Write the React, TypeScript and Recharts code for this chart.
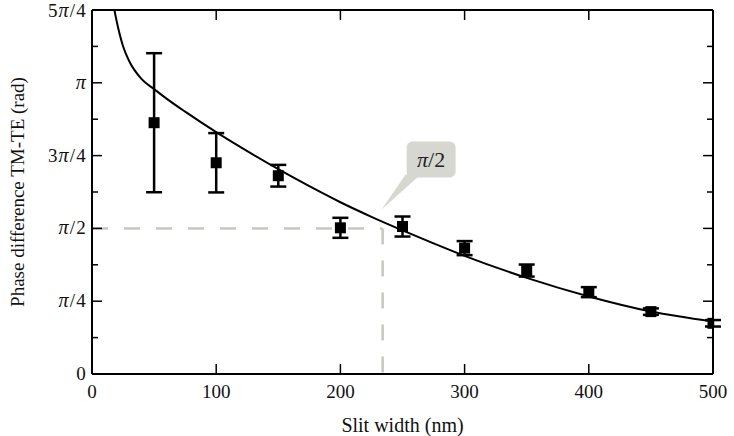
import React from 'react';
import {
    ComposedChart,
    Line,
    Scatter,
    ErrorBar,
    XAxis,
    YAxis,
    ReferenceLine,
    ReferenceDot
} from 'recharts';

const PI = Math.PI;
const STEP = PI / 8;

// measured points (slit width in nm, phase difference in rad)
const SLIT_WIDTHS = [50, 100, 150, 200, 250, 300, 350, 400, 450, 500];
const PHASE_VALUES = [2.711, 2.279, 2.139, 1.577, 1.591, 1.358, 1.116, 0.883, 0.673, 0.547];
const PHASE_ERRORS = [0.75, 0.32, 0.117, 0.108, 0.108, 0.076, 0.065, 0.054, 0.035, 0.035];

// fitted curve
const FIT_X = [18, 20, 25, 30, 40, 50, 60, 75, 100, 125, 150, 175, 200, 225, 250, 275, 300, 350, 400, 450, 500];
const FIT_Y = [3.93, 3.797, 3.536, 3.374, 3.181, 3.073, 2.971, 2.83, 2.609, 2.404, 2.209, 2.026, 1.853, 1.696, 1.55, 1.41, 1.275, 1.037, 0.837, 0.675, 0.567];

const X_MAX = 500;
const Y_MAX = 5 * PI / 4;
const X_TICKS = [0, 100, 200, 300, 400, 500];
const Y_TICKS = [0, 1, 2, 3, 4, 5, 6, 7, 8, 9, 10].map(k => k * STEP);
const Y_TICK_LABELS = ['0', 'π/4', 'π/2', '3π/4', 'π', '5π/4'];

// π/2 marker on the chart
const CROSS_X = 234;
const CROSS_Y = PI / 2;
const CALLOUT_TEXT = 'π/2';

const FONT = '"Liberation Serif", "Times New Roman", serif';
const DASH = '#c6c7c1';

const points = SLIT_WIDTHS.map((x, i) => ({ x, y: PHASE_VALUES[i], err: PHASE_ERRORS[i] }));
const fit = FIT_X.map((x, i) => ({ x, y: FIT_Y[i] }));

// writes a label, setting the π in italics
const PiText = ({ text, piSize }: { text: string; piSize?: number }) => (
    <>
        {text.split(/(π)/).filter(s => s !== '').map((part, i) =>
            part === 'π'
                ? <tspan key={i} fontStyle="italic" fontSize={piSize}>π</tspan>
                : <tspan key={i}>{part}</tspan>
        )}
    </>
);

const LeftLabel = (props: any) => {
    const { x, y, payload } = props;
    const k = Math.round(payload.value / STEP);
    if (k % 2 !== 0) return <g />;
    // the top label is nudged down a little so it stays inside the picture
    const dy = k === 10 ? 7 : 6;
    return (
        <text x={x - 5} y={y + dy} textAnchor="end" fontFamily={FONT} fontSize={19} letterSpacing={1.2} fill="#111">
            <PiText text={Y_TICK_LABELS[k / 2]} piSize={20} />
        </text>
    );
};

const BottomLabel = (props: any) => {
    const { x, y, payload } = props;
    return (
        <text x={x} y={y + 24} textAnchor="middle" fontFamily={FONT} fontSize={19} fill="#111">
            {payload.value}
        </text>
    );
};

const YTitle = (props: any) => {
    const { viewBox } = props;
    const cy = viewBox.y + viewBox.height / 2;
    return (
        <text
            x={24}
            y={cy}
            transform={`rotate(-90, 24, ${cy})`}
            textAnchor="middle"
            fontFamily={FONT}
            fontSize={19}
            fill="#111"
        >
            Phase difference TM-TE (rad)
        </text>
    );
};

// inward tick marks on both sides of the frame, drawn along a reference line
const yTickShape = (len: number) => (p: any) => {
    const l = Math.min(p.x1, p.x2);
    const r = Math.max(p.x1, p.x2);
    return (
        <g>
            <line x1={l} x2={l + len} y1={p.y1} y2={p.y1} stroke="#000" strokeWidth={1.5} />
            <line x1={r - len} x2={r} y1={p.y1} y2={p.y1} stroke="#000" strokeWidth={1.5} />
        </g>
    );
};

const xTickShape = (p: any) => {
    const t = Math.min(p.y1, p.y2);
    const b = Math.max(p.y1, p.y2);
    return (
        <g>
            <line x1={p.x1} x2={p.x1} y1={t} y2={t + 10} stroke="#000" strokeWidth={1.5} />
            <line x1={p.x1} x2={p.x1} y1={b - 10} y2={b} stroke="#000" strokeWidth={1.5} />
        </g>
    );
};

const SquareDot = (props: any) => {
    const { cx, cy } = props;
    return <rect x={cx - 5.5} y={cy - 5.5} width={11} height={11} fill="#000" />;
};

const Callout = (props: any) => {
    const { cx, cy } = props;
    return (
        <g>
            <path
                d={`M ${cx + 23} ${cy - 54} L ${cx - 1} ${cy - 19} L ${cx + 38} ${cy - 54} Z`}
                fill="#d6d7d1"
            />
            <rect x={cx + 24} y={cy - 87} width={49} height={36} rx={6} fill="#d6d7d1" />
            <text x={cx + 48.5} y={cy - 61} textAnchor="middle" fontFamily={FONT} fontSize={22} fill="#222">
                <PiText text={CALLOUT_TEXT} />
            </text>
        </g>
    );
};

export default function App() {
    return (
        <div style={{ position: 'absolute', left: 0, top: 0, width: 734, height: 436, background: '#fff' }}>
            <ComposedChart
                width={734}
                height={436}
                margin={{ top: 10, right: 21, bottom: 32, left: 0 }}
            >
                <XAxis
                    type="number"
                    dataKey="x"
                    domain={[0, X_MAX]}
                    ticks={X_TICKS}
                    height={30}
                    tickSize={0}
                    tickMargin={0}
                    tickLine={false}
                    axisLine={false}
                    tick={<BottomLabel />}
                    allowDataOverflow
                    label={{ value: 'Slit width (nm)', position: 'insideBottom', offset: -28, fontFamily: FONT, fontSize: 20, fill: '#111' }}
                />
                <YAxis
                    type="number"
                    domain={[0, Y_MAX]}
                    ticks={Y_TICKS}
                    width={92}
                    tickSize={0}
                    tickMargin={0}
                    tickLine={false}
                    axisLine={false}
                    tick={<LeftLabel />}
                    interval={0}
                    allowDataOverflow
                    label={<YTitle />}
                />
                <ReferenceLine
                    segment={[{ x: 0, y: CROSS_Y }, { x: CROSS_X, y: CROSS_Y }]}
                    stroke={DASH}
                    strokeWidth={2.5}
                    strokeDasharray="16 16"
                />
                <ReferenceLine
                    segment={[{ x: CROSS_X, y: CROSS_Y }, { x: CROSS_X, y: 0 }]}
                    stroke={DASH}
                    strokeWidth={2.5}
                    strokeDasharray="16 16"
                />
                {Y_TICKS.map((v, i) => (
                    <ReferenceLine key={`yt-${i}`} y={v} ifOverflow="visible" shape={yTickShape(i % 2 === 0 ? 10 : 6)} />
                ))}
                {X_TICKS.map((v, i) => (
                    <ReferenceLine key={`xt-${i}`} x={v} ifOverflow="visible" shape={xTickShape} />
                ))}
                <ReferenceLine x={0} ifOverflow="visible" stroke="#000" strokeWidth={2} />
                <ReferenceLine x={X_MAX} ifOverflow="visible" stroke="#000" strokeWidth={2} />
                <ReferenceLine y={0} ifOverflow="visible" stroke="#000" strokeWidth={2} />
                <ReferenceLine y={Y_MAX} ifOverflow="visible" stroke="#000" strokeWidth={2} />
                <Line
                    data={fit}
                    dataKey="y"
                    type="monotone"
                    stroke="#000"
                    strokeWidth={2}
                    dot={false}
                    activeDot={false}
                    isAnimationActive={false}
                />
                <Scatter data={points} dataKey="y" shape={<SquareDot />} isAnimationActive={false}>
                    <ErrorBar dataKey="err" direction="y" width={8} stroke="#000" strokeWidth={2.5} />
                </Scatter>
                <ReferenceDot x={CROSS_X} y={CROSS_Y} r={0} shape={<Callout />} />
            </ComposedChart>
        </div>
    );
}
